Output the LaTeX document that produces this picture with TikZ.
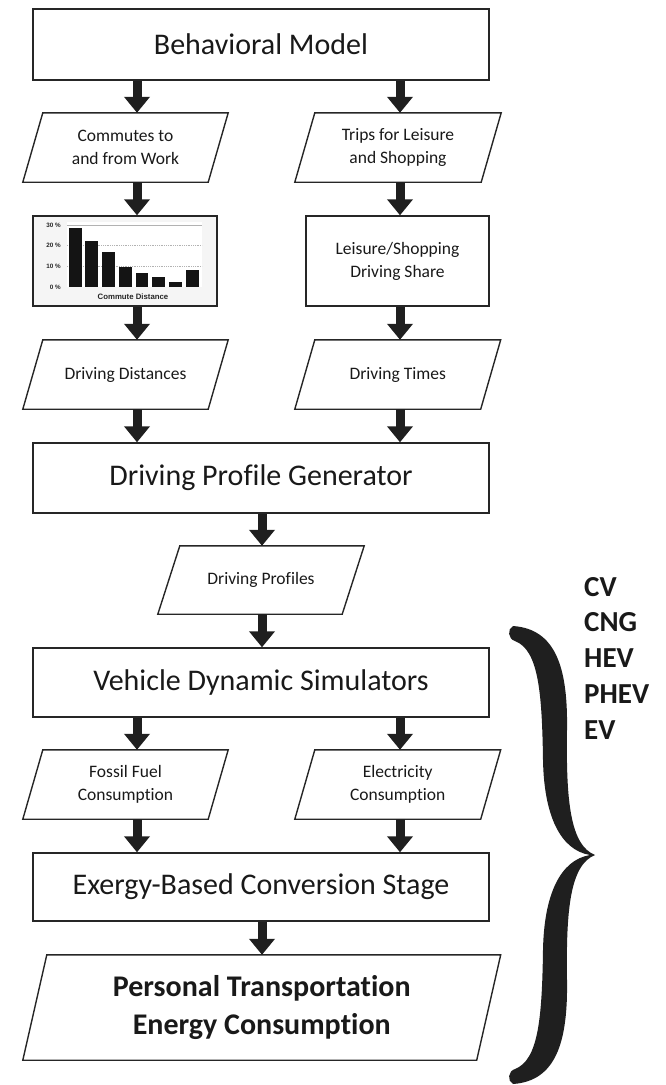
\documentclass[tikz,border=0pt]{standalone}
\usepackage{fontspec}
\setmainfont{Carlito}[Ligatures={NoCommon,NoDiscretionary}]
\newfontfamily\chartfont{Liberation Sans}
\usetikzlibrary{arrows.meta}
\newcommand\parl[2]{\draw[edge] ([xshift=#2]#1.north west) -- ([xshift=#2]#1.north east) -- ([xshift=-#2]#1.south east) -- ([xshift=-#2]#1.south west) -- cycle;}
\begin{document}
\begin{tikzpicture}[x=1pt,y=-1pt,
  edge/.style={draw=black!85, line width=1.4pt},
  box/.style={edge, rectangle, inner sep=0pt, align=center, text=black!90},
  pbox/.style={rectangle, inner sep=0pt, align=center, text=black!90},
  big/.style={font=\fontsize{30}{36}\selectfont},
  small/.style={font=\fontsize{17.5}{23}\selectfont},
  arr/.style={line width=9pt, draw=black!88, -{Triangle[width=25pt,length=16pt]}},
  bar/.style={fill=black!92},
  tick/.style={font=\chartfont\bfseries\fontsize{6.3}{7}\selectfont, anchor=east, inner sep=0pt, text=black!85}]
\useasboundingbox (0,0) rectangle (666,1085);

% nodes
\node[box, big, minimum width=456pt, minimum height=71pt] (bm) at (261,44.5) {Behavioral Model};
\node[pbox, small, minimum width=185pt, minimum height=69pt] (cw) at (125.5,147.5) {Commutes to\\and from Work};
\node[pbox, small, minimum width=186pt, minimum height=69pt] (tl) at (398,147.5) {Trips for Leisure\\and Shopping};
\node[box, minimum width=184pt, minimum height=90pt, fill=black!4] (ch) at (125,261) {};
\node[box, small, minimum width=183pt, minimum height=90pt] (ls) at (397.5,261) {Leisure/Shopping\\Driving Share};
\node[pbox, small, minimum width=185pt, minimum height=69pt] (dd) at (125.5,374.5) {Driving Distances};
\node[pbox, small, minimum width=185.5pt, minimum height=69pt] (dt) at (397.75,374.5) {Driving Times};
\node[box, big, minimum width=456pt, minimum height=70pt] (gen) at (261,478) {Driving Profile Generator};
\node[pbox, small, minimum width=184pt, minimum height=68pt] (dp) at (261,580) {Driving Profiles};
\node[box, big, minimum width=456pt, minimum height=69pt] (vds) at (261,682.5) {Vehicle Dynamic Simulators};
\node[pbox, small, minimum width=185pt, minimum height=69pt] (ff) at (125.5,784.5) {Fossil Fuel\\Consumption};
\node[pbox, small, minimum width=185.5pt, minimum height=69pt] (el) at (397.75,784.5) {Electricity\\Consumption};
\node[box, big, minimum width=456pt, minimum height=68pt] (ex) at (261,887) {Exergy-Based Conversion Stage};
\node[pbox, font=\bfseries\fontsize{30}{38}\selectfont, minimum width=453.5pt, minimum height=105pt] (pt) at (261.75,1007.5) {Personal Transportation\\Energy Consumption};

% parallelogram outlines
\parl{cw}{10}
\parl{tl}{10}
\parl{dd}{10}
\parl{dt}{10}
\parl{ff}{10}
\parl{el}{10}
\parl{dp}{11}
\parl{pt}{12}

% chart inside the commute box
\fill[white] (67,222) rectangle (202,287);
\draw[black!30, line width=0.8pt] (67,225) -- (202,225);
\draw[black!30, line width=0.8pt, densely dotted] (67,245.6) -- (202,245.6);
\draw[black!30, line width=0.8pt, densely dotted] (67,266.3) -- (202,266.3);
\fill[bar] (69,287) rectangle (82,228);
\fill[bar] (85,287) rectangle (98,241);
\fill[bar] (102,287) rectangle (115,252);
\fill[bar] (119,287) rectangle (132,267);
\fill[bar] (136,287) rectangle (148,273);
\fill[bar] (152,287) rectangle (165,277);
\fill[bar] (169,287) rectangle (182,282);
\fill[bar] (186,287) rectangle (199,270);
\node[tick] (t30) at (61,225) {30 \%};
\node[tick] (t20) at (61,245.6) {20 \%};
\node[tick] (t10) at (61,266.3) {10 \%};
\node[tick] (t0) at (61,287) {0 \%};
\node[font=\chartfont\bfseries\fontsize{7.8}{8}\selectfont, inner sep=0pt, text=black!85] (cd) at (133,297) {Commute Distance};

% arrow columns
\coordinate (L) at (137,0);
\coordinate (R) at (400,0);
\coordinate (C) at (262,0);

\draw[arr] (bm.south -| L) -- (cw.north -| L);
\draw[arr] (bm.south -| R) -- (tl.north -| R);
\draw[arr] (cw.south -| L) -- (ch.north -| L);
\draw[arr] (tl.south -| R) -- (ls.north -| R);
\draw[arr] (ch.south -| L) -- (dd.north -| L);
\draw[arr] (ls.south -| R) -- (dt.north -| R);
\draw[arr] (dd.south -| L) -- (gen.north -| L);
\draw[arr] (dt.south -| R) -- (gen.north -| R);
\draw[arr] (gen.south -| C) -- (dp.north -| C);
\draw[arr] (dp.south -| C) -- (vds.north -| C);
\draw[arr] (vds.south -| L) -- (ff.north -| L);
\draw[arr] (vds.south -| R) -- (el.north -| R);
\draw[arr] (ff.south -| L) -- (ex.north -| L);
\draw[arr] (el.south -| R) -- (ex.north -| R);
\draw[arr] (ex.south -| C) -- (pt.north -| C);

% vehicle types and brace
\node[font=\bfseries\fontsize{29}{35.7}\selectfont, align=left, anchor=north west, inner sep=0pt, text=black!90] (types) at (584,577) {CV\\CNG\\HEV\\PHEV\\EV};
\fill[black!88] (513,626) .. controls (556,629) and (568,668) .. (567,730)
  .. controls (566,800) and (570,845) .. (595,855)
  .. controls (570,865) and (566,910) .. (567,980)
  .. controls (568,1042) and (556,1081) .. (513,1084)
  .. controls (507,1081) and (508,1071) .. (515,1069)
  .. controls (538,1060) and (542,1020) .. (543,950)
  .. controls (544,895) and (560,860) .. (590,855)
  .. controls (560,850) and (544,815) .. (543,760)
  .. controls (542,690) and (538,650) .. (515,641)
  .. controls (508,639) and (507,629) .. (513,626) -- cycle;
\end{tikzpicture}
\end{document}
